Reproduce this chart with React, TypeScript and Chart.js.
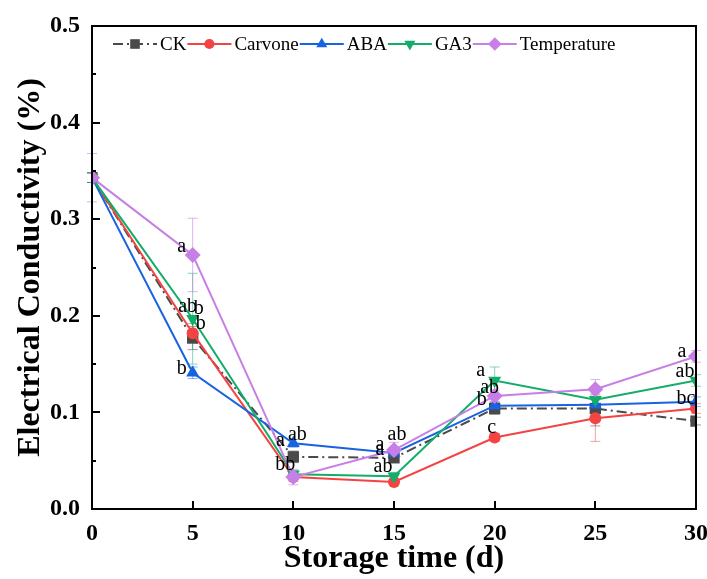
import React, { useEffect, useRef } from 'react';
import { Chart, registerables } from 'chart.js';

Chart.register(...registerables);

// ---- data ----
const days = [0, 5, 10, 15, 20, 25, 30];

const ckValues = [0.343, 0.177, 0.054, 0.053, 0.104, 0.104, 0.091];
const carvoneValues = [0.343, 0.182, 0.033, 0.028, 0.074, 0.094, 0.104];
const abaValues = [0.343, 0.141, 0.068, 0.058, 0.107, 0.108, 0.111];
const ga3Values = [0.343, 0.197, 0.036, 0.034, 0.133, 0.113, 0.133];
const tempValues = [0.343, 0.263, 0.033, 0.061, 0.117, 0.124, 0.158];

const ckErrors = [0.005, 0.012, 0.006, 0.004, 0.006, 0.018, 0.004];
const carvoneErrors = [0.005, 0.01, 0.004, 0.003, 0.004, 0.024, 0.005];
const abaErrors = [0.005, 0.006, 0.004, 0.004, 0.004, 0.005, 0.005];
const ga3Errors = [0.005, 0.047, 0.004, 0.004, 0.014, 0.006, 0.006];
const tempErrors = [0.025, 0.038, 0.008, 0.008, 0.006, 0.01, 0.006];

const ckLetters = ['', 'b', 'ab', 'a', '', '', ''];
const carvoneLetters = ['', 'b', 'b', '', 'c', '', ''];
const abaLetters = ['', 'b', 'a', 'a', 'b', '', 'bc'];
const ga3Letters = ['', 'ab', 'b', 'ab', 'a', '', 'ab'];
const tempLetters = ['', 'a', '', 'ab', 'ab', '', 'a'];

const seriesNames = ['CK', 'Carvone', 'ABA', 'GA3', 'Temperature'];
const xTitle = 'Storage time (d)';
const yTitle = 'Electrical Conductivity (%)';

// ---- styles ----
const colors = ['#4a4a4a', '#f44343', '#1763e0', '#12ad69', '#c77ee6'];
const errColors = ['rgba(74,74,74,0.55)', 'rgba(244,67,67,0.5)', 'rgba(23,99,224,0.5)', 'rgba(18,173,105,0.5)', 'rgba(199,126,230,0.6)'];
const pointStyles = ['rect', 'circle', 'triangle', 'triangle', 'rectRot'];
const pointRadii = [8, 6, 7.5, 7.5, 8];
const pointRotations = [0, 0, 0, 180, 0];
const dashes = [[10, 4, 2, 4], [], [], [], []];
const drawOrder = [5, 4, 3, 2, 1];

// letter offsets (px) relative to the point, per series per day
const letterOffsets = [
  [[0, 0], [8, -14], [4, -22], [-14, -8], [0, 0], [0, 0], [0, 0]],
  [[0, 0], [6, -24], [-3, -12], [0, 0], [-3, -10], [0, 0], [0, 0]],
  [[0, 0], [-11, -4], [-13, -3], [-14, -8], [-13, -6], [0, 0], [-10, -3]],
  [[0, 0], [-5, -12], [-13, -9], [-11, -9], [-14, -10], [0, 0], [-11, -9]],
  [[0, 0], [-11, -8], [0, 0], [3, -15], [-5, -8], [0, 0], [-14, -5]],
];

const allValues = [ckValues, carvoneValues, abaValues, ga3Values, tempValues];
const allErrors = [ckErrors, carvoneErrors, abaErrors, ga3Errors, tempErrors];
const allLetters = [ckLetters, carvoneLetters, abaLetters, ga3Letters, tempLetters];

const SERIF = "'Liberation Serif', 'Times New Roman', serif";

function drawMarker(ctx: CanvasRenderingContext2D, style: string, x: number, y: number, r: number, rot: number, color: string) {
  ctx.save();
  ctx.fillStyle = color;
  ctx.beginPath();
  if (style === 'circle') {
    ctx.arc(x, y, r, 0, Math.PI * 2);
  } else if (style === 'rect') {
    const s = r * Math.SQRT1_2;
    ctx.rect(x - s, y - s, 2 * s, 2 * s);
  } else if (style === 'rectRot') {
    ctx.moveTo(x, y - r);
    ctx.lineTo(x + r, y);
    ctx.lineTo(x, y + r);
    ctx.lineTo(x - r, y);
    ctx.closePath();
  } else if (style === 'triangle') {
    const a = (rot * Math.PI) / 180;
    for (let i = 0; i < 3; i++) {
      const ang = a + (i * 2 * Math.PI) / 3;
      const px = x + Math.sin(ang) * r;
      const py = y - Math.cos(ang) * r;
      if (i === 0) ctx.moveTo(px, py);
      else ctx.lineTo(px, py);
    }
    ctx.closePath();
  }
  ctx.fill();
  ctx.restore();
}

const errorBarPlugin = {
  id: 'errorBars',
  beforeDatasetsDraw(chart: any) {
    const { ctx, scales } = chart;
    const xs = scales.x;
    const ys = scales.y;
    ctx.save();
    ctx.lineWidth = 1;
    allValues.forEach((vals, si) => {
      ctx.strokeStyle = errColors[si];
      vals.forEach((v, i) => {
        const e = allErrors[si][i];
        const px = xs.getPixelForValue(days[i]);
        const top = ys.getPixelForValue(v + e);
        const bot = ys.getPixelForValue(v - e);
        ctx.beginPath();
        ctx.moveTo(px, top);
        ctx.lineTo(px, bot);
        ctx.moveTo(px - 5, top);
        ctx.lineTo(px + 5, top);
        ctx.moveTo(px - 5, bot);
        ctx.lineTo(px + 5, bot);
        ctx.stroke();
      });
    });
    ctx.restore();
  },
};

const framePlugin = {
  id: 'frame',
  afterDatasetsDraw(chart: any) {
    const { ctx, chartArea, scales } = chart;
    const { left, right, top, bottom } = chartArea;
    ctx.save();
    ctx.strokeStyle = '#000';
    ctx.lineWidth = 2;
    ctx.strokeRect(left, top, right - left, bottom - top);
    // y ticks (inward)
    const ys = scales.y;
    for (let v = 0; v <= 0.5001; v += 0.05) {
      const py = Math.round(ys.getPixelForValue(v));
      const major = Math.round(v * 100) % 10 === 0;
      ctx.beginPath();
      ctx.moveTo(left, py);
      ctx.lineTo(left + (major ? 8 : 4), py);
      ctx.stroke();
    }
    const xs = scales.x;
    for (let d = 0; d <= 30; d += 5) {
      const px = Math.round(xs.getPixelForValue(d));
      ctx.beginPath();
      ctx.moveTo(px, bottom);
      ctx.lineTo(px, bottom - 8);
      ctx.stroke();
    }
    ctx.restore();
  },
  afterDraw(chart: any) {
    const { ctx, chartArea, scales } = chart;
    const xs = scales.x;
    const ys = scales.y;
    ctx.save();
    // letters
    ctx.font = `20px ${SERIF}`;
    ctx.fillStyle = '#000';
    ctx.textAlign = 'center';
    ctx.textBaseline = 'middle';
    allLetters.forEach((letters, si) => {
      letters.forEach((t, i) => {
        if (!t) return;
        const px = xs.getPixelForValue(days[i]);
        const py = ys.getPixelForValue(allValues[si][i]);
        const [dx, dy] = letterOffsets[si][i];
        ctx.fillText(t, px + dx, py + dy);
      });
    });
    // legend
    ctx.font = `19px ${SERIF}`;
    ctx.textAlign = 'left';
    let x = chartArea.left + 21;
    const y = chartArea.top + 18;
    seriesNames.forEach((name, si) => {
      ctx.save();
      ctx.strokeStyle = colors[si];
      ctx.lineWidth = 2;
      ctx.setLineDash(dashes[si]);
      ctx.beginPath();
      ctx.moveTo(x, y);
      ctx.lineTo(x + 44, y);
      ctx.stroke();
      ctx.restore();
      drawMarker(ctx, pointStyles[si], x + 22, y, pointRadii[si] * 0.85, pointRotations[si], colors[si]);
      x += 47;
      ctx.fillStyle = '#000';
      ctx.fillText(name, x, y + 1);
      x += ctx.measureText(name).width + 1;
    });
    ctx.restore();
  },
};

export default function App() {
  const ref = useRef<HTMLCanvasElement | null>(null);
  useEffect(() => {
    document.body.style.margin = '0';
    const canvas = ref.current;
    if (!canvas) return;
    const datasets = seriesNames.map((name, si) => ({
      label: name,
      data: days.map((d, i) => ({ x: d, y: allValues[si][i] })),
      borderColor: colors[si],
      backgroundColor: colors[si],
      borderWidth: 2,
      borderDash: dashes[si],
      pointStyle: pointStyles[si],
      pointRadius: pointRadii[si],
      pointRotation: pointRotations[si],
      pointBorderWidth: 0,
      pointBackgroundColor: colors[si],
      order: drawOrder[si],
      clip: 0,
      tension: 0,
    }));
    const chart = new Chart(canvas, {
      type: 'line',
      data: { datasets },
      options: {
        responsive: false,
        animation: false,
        layout: { padding: { top: 26, right: 11, left: 0, bottom: 0 } },
        plugins: {
          legend: { display: false },
          tooltip: { enabled: false },
          title: { display: false },
        },
        scales: {
          x: {
            type: 'linear',
            min: 0,
            max: 30,
            grid: { display: false, drawTicks: false },
            border: { display: false },
            ticks: {
              stepSize: 5,
              padding: 10,
              color: '#000',
              font: { family: SERIF, size: 24, weight: 'bold' },
            },
            title: {
              display: true,
              text: xTitle,
              color: '#000',
              font: { family: SERIF, size: 32, weight: 'bold' },
              padding: { top: 0, bottom: 1 },
            },
            afterFit: (s: any) => {
              s.height = 70;
              s.paddingLeft = 0;
              s.paddingRight = 0;
            },
          },
          y: {
            min: 0,
            max: 0.5,
            grid: { display: false, drawTicks: false },
            border: { display: false },
            ticks: {
              stepSize: 0.1,
              padding: 12,
              color: '#000',
              font: { family: SERIF, size: 24, weight: 'bold' },
              callback: (v: any) => Number(v).toFixed(1),
            },
            title: {
              display: true,
              text: yTitle,
              color: '#000',
              font: { family: SERIF, size: 32, weight: 'bold' },
              padding: { top: 12, bottom: 0 },
            },
            afterFit: (s: any) => {
              s.width = 92;
              s.paddingTop = 0;
              s.paddingBottom = 0;
            },
          },
        },
      },
      plugins: [errorBarPlugin, framePlugin],
    } as any);
    return () => chart.destroy();
  }, []);
  return (
    <div style={{ width: 707, height: 579, background: '#fff' }}>
      <canvas ref={ref} width={707} height={579} style={{ display: 'block' }} />
    </div>
  );
}
